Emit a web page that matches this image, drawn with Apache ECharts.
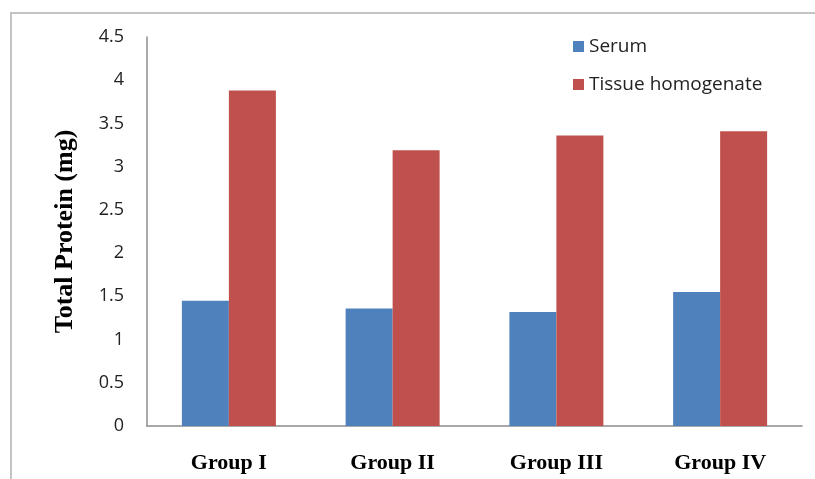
<!DOCTYPE html>
<html>
<head>
<meta charset="utf-8">
<style>
  html, body { margin: 0; padding: 0; background: #fff; }
  #chart { width: 815px; height: 479px; }
</style>
<script src="https://cdn.jsdelivr.net/npm/echarts@6/dist/echarts.min.js"></script>
</head>
<body>
<div id="chart"></div>
<script>
// Total protein per group, serum vs tissue homogenate
const groups = ['Group I', 'Group II', 'Group III', 'Group IV'];
const serum = [1.45, 1.36, 1.32, 1.55];
const tissue = [3.88, 3.19, 3.36, 3.41];
const seriesNames = ['Serum', 'Tissue homogenate'];

const chart = echarts.init(document.getElementById('chart'));
chart.setOption({
  animation: false,
  backgroundColor: '#fff',
  graphic: [{
    type: 'rect',
    shape: { x: 11, y: 13, width: 830, height: 500 },
    style: { fill: 'none', stroke: '#c4c4c4', lineWidth: 2 },
    silent: true
  }],
  grid: { left: 147, right: 13, top: 37, bottom: 53 },
  legend: {
    orient: 'vertical',
    left: 568,
    top: 32,
    itemWidth: 11,
    itemHeight: 11,
    itemGap: 19,
    icon: 'rect',
    textStyle: { fontFamily: 'Open Sans', fontSize: 19, color: '#222' },
    data: seriesNames
  },
  xAxis: {
    type: 'category',
    data: groups,
    axisLine: { lineStyle: { color: '#8c8c8c', width: 1.5 } },
    axisTick: { show: false },
    axisLabel: {
      margin: 26,
      fontFamily: 'Liberation Serif',
      fontWeight: 'bold',
      fontSize: 22,
      color: '#000'
    }
  },
  yAxis: {
    type: 'value',
    min: 0,
    max: 4.5,
    interval: 0.5,
    name: 'Total Protein (mg)',
    nameLocation: 'middle',
    nameGap: 69,
    nameTextStyle: {
      fontFamily: 'Liberation Serif',
      fontWeight: 'bold',
      fontSize: 26,
      color: '#000'
    },
    axisLine: { show: true, lineStyle: { color: '#8c8c8c', width: 1.5 } },
    axisTick: { show: false },
    splitLine: { show: false },
    axisLabel: {
      margin: 23,
      fontFamily: 'Open Sans',
      fontSize: 18,
      color: '#222'
    }
  },
  series: [
    {
      name: seriesNames[0],
      type: 'bar',
      data: serum,
      barWidth: 47,
      barGap: '0%',
      itemStyle: { color: '#4f81bd' }
    },
    {
      name: seriesNames[1],
      type: 'bar',
      data: tissue,
      barWidth: 47,
      barGap: '0%',
      itemStyle: { color: '#c0504d' }
    }
  ]
});
</script>
</body>
</html>
